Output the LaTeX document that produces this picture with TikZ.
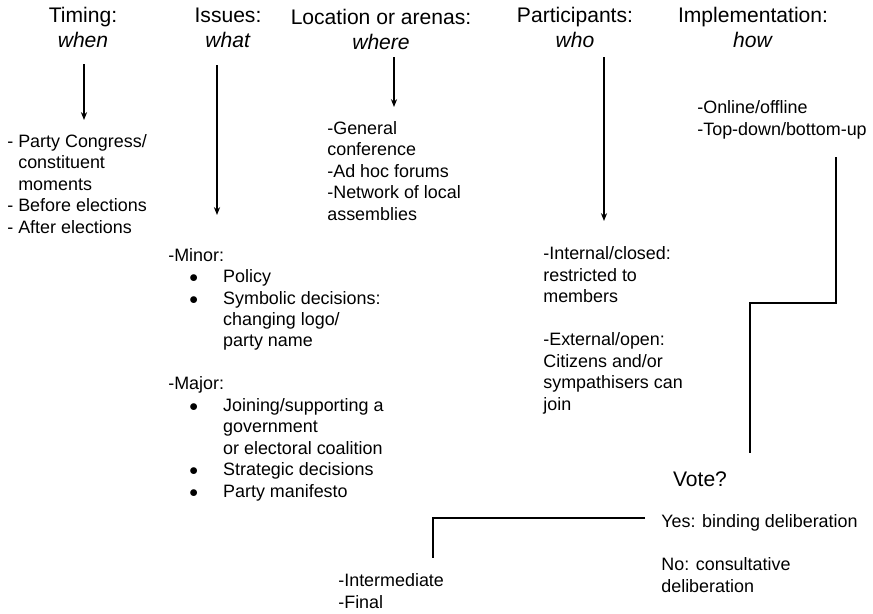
\documentclass[tikz,border=0pt]{standalone}
\usepackage{fontspec}
\setmainfont{Liberation Sans}
\usetikzlibrary{arrows.meta}

\tikzset{
  head/.style={align=center, inner sep=0pt, anchor=base, font=\fontsize{12}{14.2}\selectfont},
  txt/.style={align=left, inner sep=0pt, anchor=base west, font=\fontsize{10.2}{12.2}\selectfont},
  arr/.style={-{Stealth[length=4.5pt,width=3.5pt]}, line width=0.7pt},
  link/.style={line width=0.7pt}
}
\newcommand{\itm}{\hspace*{11.9pt}\makebox[19.3pt][l]{$\bullet$}}
\newcommand{\cnt}{\hspace*{31.2pt}}

\begin{document}
\begin{tikzpicture}[x=0.02cm, y=-0.02cm]
    \useasboundingbox (0,0) rectangle (873,613);

    % Headings (placed at the baseline of their last line)
    \node[head] (timing) at (83,47) {Timing:\\\textit{when}};
    \node[head] (issues) at (228,47) {Issues:\\\textit{what}};
    \node[head] (location) at (381,49) {Location or arenas:\\\textit{where}};
    \node[head] (particip) at (575,47) {Participants:\\\textit{who}};
    \node[head] (implem) at (753,47) {Implementation:\\\textit{how}};

    % Lists under the headings
    \node[txt] (timinglist) at (7,233) {- Party Congress/\\\phantom{- }constituent\\\phantom{- }moments\\- Before elections\\- After elections};
    \node[txt] (issuelist) at (168,497) {-Minor:\\
      \itm Policy\\
      \itm Symbolic decisions:\\
      \cnt changing logo/\\
      \cnt party name\\[12.2pt]
      -Major:\\
      \itm Joining/supporting a\\
      \cnt government\\
      \cnt or electoral coalition\\
      \itm Strategic decisions\\
      \itm Party manifesto};
    \node[txt] (locationlist) at (327,220) {-General\\conference\\-Ad hoc forums\\-Network of local\\assemblies};
    \node[txt] (participlist) at (543,410) {-Internal/closed:\\restricted to\\members\\[12.2pt]-External/open:\\Citizens and/or\\sympathisers can\\join};
    \node[txt] (implemlist) at (697,135) {-Online/offline\\-Top-down/bottom-up};

    % Vote
    \node[head] (vote) at (700,486) {Vote?};
    \node[txt] (yes) at (661,527) {Yes: binding deliberation};
    \node[txt] (no) at (661,592) {No: consultative\\deliberation};
    \node[txt] (stage) at (338,608) {-Intermediate\\-Final};

    % Arrows
    \coordinate (a1) at (84,64);   \coordinate (b1) at (84,120);
    \coordinate (a2) at (217,65);  \coordinate (b2) at (217,215);
    \coordinate (a3) at (394,57);  \coordinate (b3) at (394,107);
    \coordinate (a4) at (604,57);  \coordinate (b4) at (604,221);
    \draw[arr] (a1) -- (b1);
    \draw[arr] (a2) -- (b2);
    \draw[arr] (a3) -- (b3);
    \draw[arr] (a4) -- (b4);

    % Step line down to the vote
    \coordinate (s1) at (836,157);
    \coordinate (s2) at (750,303);
    \coordinate (s3) at (750,453);
    \draw[link] (s1) |- (s2) -- (s3);

    % Line from yes to the stages
    \coordinate (y1) at (645,518);
    \coordinate (y2) at (433,558);
    \draw[link] (y1) -| (y2);

\end{tikzpicture}
\end{document}
